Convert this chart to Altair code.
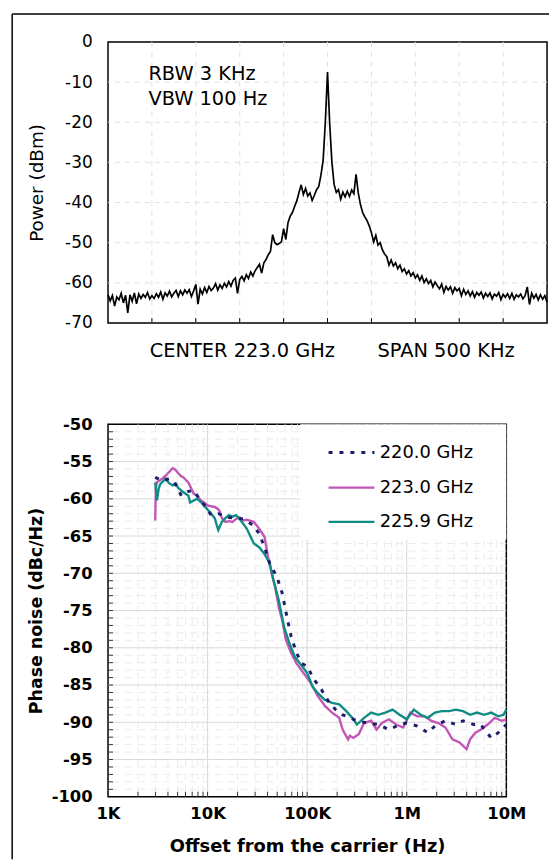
import altair as alt
import pandas as pd

FONT = "DejaVu Sans"

# ---------------- top panel: spectrum ----------------
spec_offset_khz = [-250 + 2.5 * i for i in range(201)]
spec_power_dbm = [
    -63.0, -64.5, -63.2, -65.8, -63.5, -64.2, -62.6, -65.0, -63.1, -67.5,
    -63.0, -64.6, -62.5, -65.2, -62.8, -63.9, -62.9, -63.6, -62.4, -64.0,
    -63.2, -63.9, -62.7, -63.6, -62.3, -64.1, -62.5, -63.3, -62.1, -63.5,
    -62.6, -61.9, -63.4, -62.0, -63.0, -61.8, -62.6, -61.7, -63.4, -62.0,
    -60.4, -65.3, -61.6, -62.8, -61.2, -62.4, -60.9, -61.9, -61.3, -60.2,
    -61.8, -60.5, -61.4, -60.1, -61.0, -59.7, -60.8, -59.4, -58.8, -62.6,
    -59.2, -58.4, -59.5, -58.0, -58.9, -57.3, -58.3, -57.0, -56.2, -55.4,
    -57.6, -55.0, -54.2, -53.0, -52.2, -48.0, -50.0, -50.5, -50.2, -49.8,
    -46.5, -49.2, -45.0, -43.4, -42.5, -41.0, -39.6, -37.5, -35.6, -38.0,
    -36.5, -38.4, -37.6, -39.5, -38.2, -36.8, -36.0, -33.2, -29.5, -20.0,
    -7.5, -20.5, -30.0, -35.5, -37.5, -36.8, -39.2, -37.4, -38.6, -37.2,
    -38.5, -36.9, -37.8, -33.0, -37.6, -40.5, -42.5, -43.6, -44.5, -45.8,
    -47.5, -49.8, -48.2, -50.6, -50.0, -51.8, -52.8, -53.5, -55.6, -54.3,
    -55.8, -55.0, -56.5, -55.6, -57.2, -56.5, -57.8, -57.0, -58.3, -57.5,
    -58.8, -58.0, -59.4, -58.3, -59.9, -59.0, -60.2, -59.4, -61.0, -59.8,
    -60.7, -61.5, -60.3, -62.4, -60.9, -61.8, -61.0, -62.6, -61.2, -62.0,
    -61.4, -63.2, -61.6, -62.9, -62.0, -63.3, -62.2, -63.6, -62.4, -63.1,
    -62.3, -63.8, -62.6, -63.4, -62.5, -64.0, -62.8, -63.3, -62.4, -64.2,
    -62.9, -63.6, -62.7, -63.9, -62.6, -64.1, -63.0, -63.5, -62.8, -64.0,
    -63.2, -61.0, -65.4, -62.6, -63.8, -62.9, -64.3, -63.0, -64.1, -63.2,
    -64.8,
]
top_div_khz = [-200, -150, -100, -50, 0, 50, 100, 150, 200]
top_grid_dbm = [-60, -50, -40, -30, -20, -10]
top_ytick_values = [0, -10, -20, -30, -40, -50, -60, -70]
top_notes = ["RBW 3 KHz", "VBW 100 Hz"]
top_notes_x = [-204, -204]
top_notes_y = [-8.0, -14.2]
top_foot = ["CENTER 223.0 GHz", "SPAN 500 KHz"]
top_foot_x = [-97, 135]
top_foot_y = [-76.9, -76.9]

# ---------------- bottom panel: phase noise ----------------
pn220_f = [2980, 3500, 4110, 4640, 5460, 6410, 7240, 8510, 9600, 10860,
           12800, 16380, 22760, 29120, 32950, 37280, 42170, 49720, 56230, 63630,
           69090, 78150, 88400, 100000, 117900, 139000, 163800, 193100, 227600, 268300,
           316200, 404700, 517900, 662900, 848300, 1000000, 1276000, 1629000, 1918000, 2447000,
           3124000, 3676000, 4692000, 5521000, 7049000, 8293000, 10000000]
pn220_db = [-57.1, -57.6, -57.3, -57.8, -59.6, -59.0, -58.9, -60.2, -61.1, -62.2,
            -62.0, -62.5, -62.7, -63.6, -64.7, -66.5, -68.7, -70.5, -72.7, -76.3,
            -78.5, -80.7, -82.1, -82.5, -84.3, -85.6, -87.2, -88.3, -89.0, -89.4,
            -89.8, -90.1, -90.3, -91.0, -90.3, -90.1, -90.5, -91.4, -90.5, -89.8,
            -90.3, -89.8, -90.3, -90.3, -92.1, -91.4, -90.3]

pn223_f = [2980, 3020, 3100, 3230, 3500, 3790, 4110, 4460, 4640, 4830,
           5030, 5460, 5680, 6410, 7240, 7850, 8510, 9220, 10000, 10860,
           11790, 12800, 13340, 13900, 15090, 16380, 17780, 19310, 20960, 22760,
           24710, 29120, 32950, 37280, 40470, 43940, 47710, 51790, 56230, 61050,
           69090, 78150, 92100, 108600, 128000, 150900, 177800, 209600, 227600, 257500,
           268300, 291200, 329500, 372800, 439400, 497200, 562300, 662900, 781500, 921100,
           1085000, 1276000, 1502000, 1767000, 2080000, 2447000, 2880000, 3388000, 3987000, 4325000,
           4887000, 5521000, 6497000, 7645000, 8997000, 10000000]
pn223_db = [-62.9, -58.5, -57.8, -57.6, -57.3, -56.9, -56.4, -55.9, -56.0, -56.2,
            -56.5, -57.0, -57.1, -57.8, -59.3, -59.6, -60.2, -60.5, -60.9, -61.0,
            -61.1, -61.4, -61.8, -62.6, -63.1, -63.0, -63.1, -62.7, -62.5, -62.9,
            -62.8, -63.1, -64.0, -65.1, -67.8, -70.0, -71.8, -74.5, -76.3, -78.9,
            -80.7, -82.1, -83.4, -84.7, -86.5, -87.8, -88.7, -89.4, -91.0, -92.3,
            -91.8, -92.1, -91.6, -90.1, -89.8, -91.0, -90.1, -89.6, -90.3, -90.7,
            -88.7, -89.2, -89.2, -89.8, -90.1, -90.7, -92.3, -92.7, -93.6, -92.3,
            -91.4, -91.0, -90.3, -89.4, -89.8, -89.6]

pn2259_f = [2980, 3100, 3230, 3360, 3790, 4110, 4460, 4830, 5030, 5680,
            6410, 6680, 7850, 8510, 9220, 10860, 11790, 12800, 13900, 15090,
            16380, 17780, 19310, 20960, 24710, 29120, 32950, 37280, 42170, 45790,
            51790, 58610, 66290, 74990, 84830, 100000, 113100, 128000, 150900, 177800,
            209600, 247100, 291200, 316200, 372800, 439400, 517900, 610500, 719700, 848300,
            1000000, 1177000, 1384000, 1629000, 1918000, 2256000, 2655000, 3124000, 3676000, 4325000,
            5090000, 5990000, 7049000, 8293000, 9370000, 10000000]
pn2259_db = [-57.8, -60.2, -58.6, -58.0, -57.3, -57.9, -58.2, -58.0, -58.5, -59.1,
             -59.6, -60.5, -60.0, -60.4, -60.9, -62.0, -62.6, -64.2, -63.1, -62.6,
             -62.2, -62.4, -62.2, -62.7, -64.0, -66.0, -66.5, -67.4, -68.7, -70.9,
             -73.6, -77.2, -79.4, -81.2, -82.1, -83.4, -85.2, -86.1, -87.0, -87.4,
             -87.6, -88.5, -89.6, -90.3, -89.4, -88.7, -89.0, -88.7, -88.3, -89.0,
             -89.6, -88.3, -89.0, -89.4, -88.7, -88.5, -88.5, -88.3, -88.5, -89.0,
             -88.7, -89.0, -88.7, -89.2, -89.0, -88.3]

series_names = ["220.0 GHz", "223.0 GHz", "225.9 GHz"]
series_colors = ["#1d1d6e", "#c256b4", "#0f8c84"]

bot_decades = [1e3, 1e4, 1e5, 1e6, 1e7]
bot_minor_x = [m * 10 ** e for e in range(3, 7) for m in range(2, 10)]
bot_major_y = [-95, -90, -85, -80, -75, -70, -65, -60, -55]
bot_minor_y = [v for v in range(-99, -50) if v % 5 != 0]
bot_ytick_values = [-100, -95, -90, -85, -80, -75, -70, -65, -60, -55, -50]
legend_y = [-53.8, -58.5, -63.1]
legend_x1, legend_x2, legend_xt = 164000, 474000, 535000

TW, TH = 442, 283
BW, BH = 401, 375

# ---------------- build top ----------------
xs_t = alt.Scale(domain=[-250, 250], nice=False, zero=False)
ys_t = alt.Scale(domain=[-70, 0], nice=False, zero=False)

t_gx = alt.Chart(pd.DataFrame({"f": top_div_khz})).mark_rule(
    color="#e0e0e0", strokeDash=[5, 5], strokeWidth=1).encode(
    x=alt.X("f:Q", scale=xs_t, axis=None))
t_gy = alt.Chart(pd.DataFrame({"p": top_grid_dbm})).mark_rule(
    color="#e0e0e0", strokeDash=[5, 5], strokeWidth=1).encode(
    y=alt.Y("p:Q", scale=ys_t, axis=None))
t_ticks = alt.Chart(pd.DataFrame({"f": top_div_khz})).mark_rule(
    color="black", strokeWidth=1).encode(
    x=alt.X("f:Q", scale=xs_t, axis=None), y=alt.value(TH), y2=alt.value(TH - 5))
t_line = alt.Chart(pd.DataFrame({"f": spec_offset_khz, "p": spec_power_dbm})).mark_line(
    color="black", strokeWidth=1.7, strokeJoin="miter").encode(
    x=alt.X("f:Q", scale=xs_t, axis=None),
    y=alt.Y("p:Q", scale=ys_t, axis=alt.Axis(
        values=top_ytick_values, labelExpr="'' + datum.value", title="Power (dBm)",
        ticks=False, tickSize=0, domain=False, grid=False,
        labelFont=FONT, labelFontSize=17, labelColor="black", labelPadding=16,
        titleFont=FONT, titleFontSize=18.5, titleFontWeight="normal", titleColor="black",
        titleX=-72, titleY=TH / 2, titleAngle=270, titleBaseline="middle",
        titleAlign="center")))
t_notes = alt.Chart(pd.DataFrame({"f": top_notes_x, "p": top_notes_y, "t": top_notes})).mark_text(
    align="left", baseline="middle", font=FONT, fontSize=19.5, color="black").encode(
    x=alt.X("f:Q", scale=xs_t, axis=None), y=alt.Y("p:Q", scale=ys_t, axis=None), text="t:N")
t_foot = alt.Chart(pd.DataFrame({"f": top_foot_x, "p": top_foot_y, "t": top_foot})).mark_text(
    align="center", baseline="middle", font=FONT, fontSize=19.5, color="black").encode(
    x=alt.X("f:Q", scale=xs_t, axis=None), y=alt.Y("p:Q", scale=ys_t, axis=None), text="t:N")
one = pd.DataFrame({"k": [0]})
frame_l = alt.Chart(one).mark_rule(color="black", strokeWidth=1.5).encode(
    x=alt.value(-96.5), y=alt.value(-28), y2=alt.value(823))
frame_t = alt.Chart(one).mark_rule(color="black", strokeWidth=1.5).encode(
    x=alt.value(-96.5), x2=alt.value(444), y=alt.value(-28))

top = alt.layer(t_gx, t_gy, t_ticks, t_line, t_notes, t_foot, frame_l, frame_t).resolve_axis(
    x="independent", y="independent").properties(width=TW, height=TH)

# ---------------- build bottom ----------------
xs_b = alt.Scale(type="log", domain=[1e3, 1e7], nice=False)
ys_b = alt.Scale(domain=[-100, -50], nice=False, zero=False)

b_minx = alt.Chart(pd.DataFrame({"f": bot_minor_x})).mark_rule(
    color="#ebebeb", strokeDash=[7, 6], strokeWidth=1).encode(
    x=alt.X("f:Q", scale=xs_b, axis=None))
b_miny = alt.Chart(pd.DataFrame({"p": bot_minor_y})).mark_rule(
    color="#ebebeb", strokeDash=[7, 6], strokeWidth=1).encode(
    y=alt.Y("p:Q", scale=ys_b, axis=None))
b_majx = alt.Chart(pd.DataFrame({"f": bot_decades[1:-1]})).mark_rule(
    color="#d9d9d9", strokeWidth=1).encode(
    x=alt.X("f:Q", scale=xs_b, axis=None))
b_majy = alt.Chart(pd.DataFrame({"p": bot_major_y})).mark_rule(
    color="#d9d9d9", strokeWidth=1).encode(
    y=alt.Y("p:Q", scale=ys_b, axis=None))
b_legbg = alt.Chart(pd.DataFrame({"x1": [85000], "x2": [1e7], "y1": [-50], "y2": [-65.5]})).mark_rect(
    color="white").encode(
    x=alt.X("x1:Q", scale=xs_b, axis=None), x2="x2:Q",
    y=alt.Y("y1:Q", scale=ys_b, axis=None), y2="y2:Q")
b_lt = alt.Chart(pd.DataFrame({"p": list(range(-99, -50))})).mark_rule(
    color="#333333", strokeWidth=1).encode(
    y=alt.Y("p:Q", scale=ys_b, axis=None), x=alt.value(0), x2=alt.value(5))
b_bt = alt.Chart(pd.DataFrame({"f": bot_minor_x + bot_decades[1:-1]})).mark_rule(
    color="#333333", strokeWidth=1).encode(
    x=alt.X("f:Q", scale=xs_b, axis=None), y=alt.value(BH), y2=alt.value(BH - 5))


def pn_line(fs, dbs, color, dash=None, width=2.4, axes=False):
    kw = dict(color=color, strokeWidth=width)
    if dash:
        kw["strokeDash"] = dash
    if axes:
        xax = alt.Axis(values=bot_decades,
                       labelExpr="datum.value >= 1e6 ? (datum.value / 1e6) + 'M' : (datum.value / 1e3) + 'K'",
                       ticks=False, tickSize=0, domain=False, grid=False,
                       labelFont=FONT, labelFontSize=16.5, labelFontWeight="bold", labelColor="black",
                       labelPadding=9, labelFlush=False, labelOverlap=False, labelBound=False,
                       title="Offset from the carrier (Hz)", titleFont=FONT, titleFontSize=18,
                       titleFontWeight="bold", titleColor="black",
                       titleX=BW / 2, titleY=50, titleBaseline="middle", titleAlign="center")
        yax = alt.Axis(values=bot_ytick_values, labelExpr="'' + datum.value",
                       ticks=False, tickSize=0, domain=False, grid=False,
                       labelFont=FONT, labelFontSize=16.5, labelFontWeight="bold", labelColor="black",
                       labelPadding=16, labelOverlap=False,
                       title="Phase noise (dBc/Hz)", titleFont=FONT, titleFontSize=17.5,
                       titleFontWeight="bold", titleColor="black",
                       titleX=-72, titleY=BH / 2, titleAngle=270, titleBaseline="middle",
                       titleAlign="center")
    else:
        xax = None
        yax = None
    return alt.Chart(pd.DataFrame({"f": fs, "p": dbs})).mark_line(**kw).encode(
        x=alt.X("f:Q", scale=xs_b, axis=xax),
        y=alt.Y("p:Q", scale=ys_b, axis=yax))


l223 = pn_line(pn223_f, pn223_db, series_colors[1], axes=True)
l2259 = pn_line(pn2259_f, pn2259_db, series_colors[2])
l220 = pn_line(pn220_f, pn220_db, series_colors[0], dash=[4, 7], width=3)

leg_df = pd.DataFrame({"name": series_names, "y": legend_y,
                       "x1": [legend_x1] * 3, "x2": [legend_x2] * 3, "xt": [legend_xt] * 3})
cscale = alt.Scale(domain=series_names, range=series_colors)
leg_solid = alt.Chart(leg_df).transform_filter(alt.datum.name != "220.0 GHz").mark_rule(strokeWidth=2.4).encode(
    x=alt.X("x1:Q", scale=xs_b, axis=None), x2="x2:Q",
    y=alt.Y("y:Q", scale=ys_b, axis=None),
    color=alt.Color("name:N", scale=cscale, legend=None))
leg_dash = alt.Chart(leg_df).transform_filter(alt.datum.name == "220.0 GHz").mark_rule(
    strokeWidth=3, strokeDash=[4, 7]).encode(
    x=alt.X("x1:Q", scale=xs_b, axis=None), x2="x2:Q",
    y=alt.Y("y:Q", scale=ys_b, axis=None),
    color=alt.Color("name:N", scale=cscale, legend=None))
leg_txt = alt.Chart(leg_df).mark_text(align="left", baseline="middle", font=FONT,
                                      fontSize=18, color="black").encode(
    x=alt.X("xt:Q", scale=xs_b, axis=None),
    y=alt.Y("y:Q", scale=ys_b, axis=None), text="name:N")

bottom = alt.layer(b_minx, b_miny, b_majx, b_majy, b_legbg, b_lt, b_bt,
                   l223, l2259, l220, leg_solid, leg_dash, leg_txt).resolve_axis(
    x="independent", y="independent").properties(width=BW, height=BH)

chart = alt.vconcat(top, bottom, spacing=102, bounds="flush").properties(
    padding={"left": 10.75, "top": 9.25, "right": 0, "bottom": 0}
).configure(font=FONT).configure_view(stroke="black", strokeWidth=1.5)

chart.save("out.html", embed_options={"renderer": "svg", "actions": False})
